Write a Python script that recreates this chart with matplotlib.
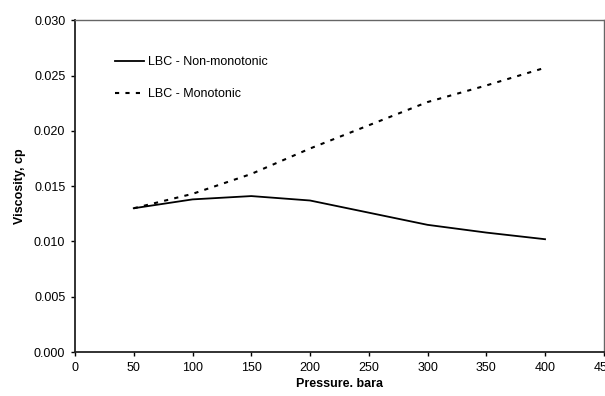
import numpy as np
from matplotlib import pyplot as plt

plt.rcParams['font.family'] = ['Liberation Sans', 'DejaVu Sans']

pressure = [50, 100, 150, 200, 250, 300, 350, 400]
visc_nonmono = [0.0130, 0.0138, 0.0141, 0.0137, 0.0126, 0.0115, 0.0108, 0.0102]
visc_mono = [0.0130, 0.0143, 0.0161, 0.0184, 0.0205, 0.0226, 0.0241, 0.0257]

fig = plt.figure(figsize=(6.05, 3.96), dpi=100)
ax = fig.add_axes([0.124, 0.111, 0.874, 0.838])

ax.plot(pressure, visc_nonmono, color='k', lw=1.3, label='LBC - Non-monotonic')
ax.plot(pressure, visc_mono, color='k', lw=1.5, ls=(0, (2, 3)), label='LBC - Monotonic')

ax.set_xlim(0, 450)
ax.set_ylim(0, 0.030)
ax.set_xticks(np.arange(0, 451, 50))
ax.set_yticks(np.arange(0, 0.0301, 0.005))
ax.set_yticklabels(['%.3f' % v for v in np.arange(0, 0.0301, 0.005)])
ax.tick_params(direction='out', length=3, width=1, labelsize=9, pad=4)

ax.set_xlabel('Pressure. bara', fontsize=9, fontweight='bold', labelpad=3)
ax.set_ylabel('Viscosity, cp', fontsize=9, fontweight='bold', labelpad=6)

for s in ['left', 'bottom']:
    ax.spines[s].set_linewidth(1.3)
    ax.spines[s].set_color('#222222')
for s in ['top', 'right']:
    ax.spines[s].set_linewidth(1.0)
    ax.spines[s].set_color('#666666')

ax.legend(loc='upper left', bbox_to_anchor=(0.055, 0.925), frameon=False,
          fontsize=9, handlelength=2.3, handletextpad=0.3, labelspacing=1.6)

plt.savefig('out.png', dpi=100)
plt.close()
